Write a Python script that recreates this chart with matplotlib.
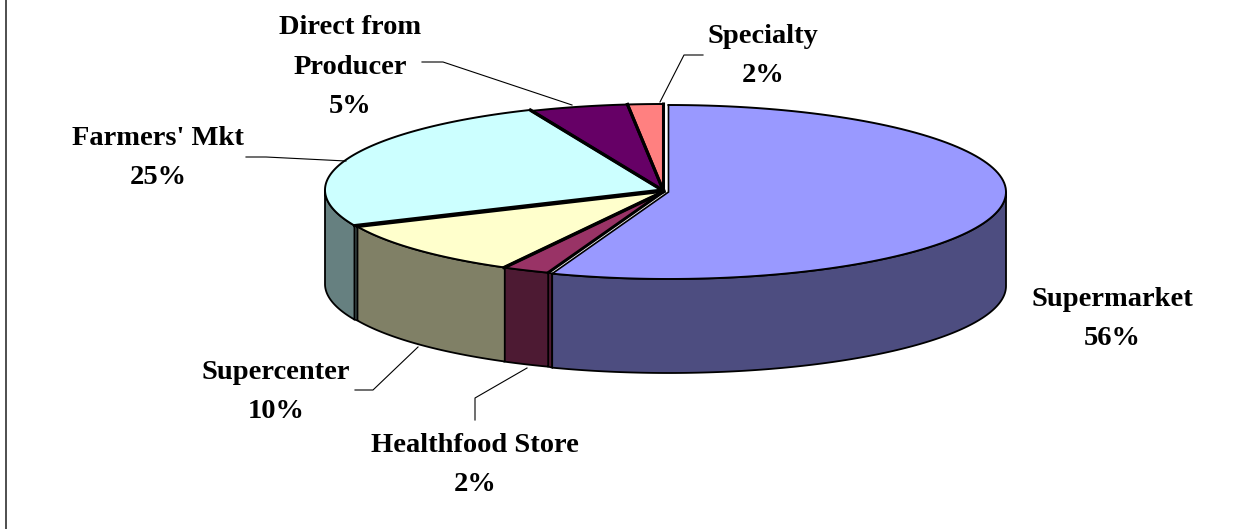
import matplotlib
matplotlib.use("Agg")
import matplotlib.pyplot as plt
import numpy as np

labels = ["Supermarket", "Healthfood Store", "Supercenter", "Farmers' Mkt",
          "Direct from\nProducer", "Specialty"]
shares = [55.6, 2.3, 10.4, 25.3, 4.7, 1.7]
top_colors = ["#9999FF", "#993366", "#FFFFCC", "#CCFFFF", "#660066", "#FF8080"]
side_colors = ["#4D4D80", "#4D1A33", "#808066", "#668080", "#330033", "#804040"]

# layout in pixels
cx, cy = 664.5, 191
rx, ry = 337.5, 87
depth = 94
nudge = [(4, 1), (0, 0), (1, 0), (-2, -1), (-1, 0), (-1, 0)]

label_pos = [(1112, 319), (475, 465), (276, 392), (158, 158), (350, 67), (763, 56)]
leaders = [
    None,
    [(475, 420), (475, 398), (527, 368)],
    [(355, 390), (373, 390), (418, 347)],
    [(246, 157), (266, 157), (346, 161)],
    [(422, 62), (443, 62), (572, 105)],
    [(703, 55), (684, 55), (660, 102)],
]


def rim(a0, a1, dx, dy, yoff=0):
    t = np.radians(np.linspace(a0, a1, 120))
    return cx + dx + rx * np.sin(t), cy + dy + yoff - ry * np.cos(t)


fig = plt.figure(figsize=(12.52, 5.29), dpi=100)
ax = fig.add_axes([0, 0, 1, 1])
ax.set_xlim(0, 1252)
ax.set_ylim(529, 0)
ax.axis("off")

edges = np.cumsum([0] + shares) / sum(shares) * 360

# cut faces that show in the gap between two shifted slices
for i in [0, 2]:
    a = edges[i + 1]
    xa, ya = rim(a, a, *nudge[i])
    xb, yb = rim(a, a, *nudge[i + 1])
    ax.fill([xa[0], xb[0], xb[0], xa[0]],
            [ya[0], yb[0], yb[0] + depth, ya[0] + depth],
            facecolor=side_colors[1 if i == 0 else 3], edgecolor="black", lw=1.2, zorder=1.5)

# side walls, only the front half of the rim shows
for i in range(len(shares)):
    a0, a1 = max(edges[i], 90), min(edges[i + 1], 270)
    if a1 <= a0:
        continue
    dx, dy = nudge[i]
    x1, y1 = rim(a0, a1, dx, dy)
    x2, y2 = rim(a1, a0, dx, dy, depth)
    ax.fill(np.r_[x1, x2], np.r_[y1, y2], facecolor=side_colors[i],
            edgecolor="black", lw=1.3, joinstyle="round", zorder=2)

# top faces
for i in range(len(shares)):
    dx, dy = nudge[i]
    x1, y1 = rim(edges[i], edges[i + 1], dx, dy)
    ax.fill(np.r_[cx + dx, x1], np.r_[cy + dy, y1], facecolor=top_colors[i],
            edgecolor="none", zorder=3)
    ax.plot(x1, y1, color="black", lw=1.4, zorder=3.2)
    ax.plot([x1[0], cx + dx, x1[-1]], [y1[0], cy + dy, y1[-1]], color="black",
            lw=1.2 if i == 0 else 2.2, solid_joinstyle="miter", zorder=3.1)

for pts in leaders:
    if pts:
        xs, ys = zip(*pts)
        ax.plot(xs, ys, color="black", lw=0.8, zorder=4)

for name, share, (x, y) in zip(labels, shares, label_pos):
    ax.text(x, y, f"{name}\n{share:.0f}%", ha="center", va="center",
            family="Liberation Serif", fontweight="bold", fontsize=20.5,
            linespacing=1.76, color="black", zorder=5)

# chart frame, only the left side is inside the crop
ax.plot([5.5, 5.5], [0, 529], color="#404040", lw=1.3, zorder=1)

fig.savefig("out.png", dpi=100)
